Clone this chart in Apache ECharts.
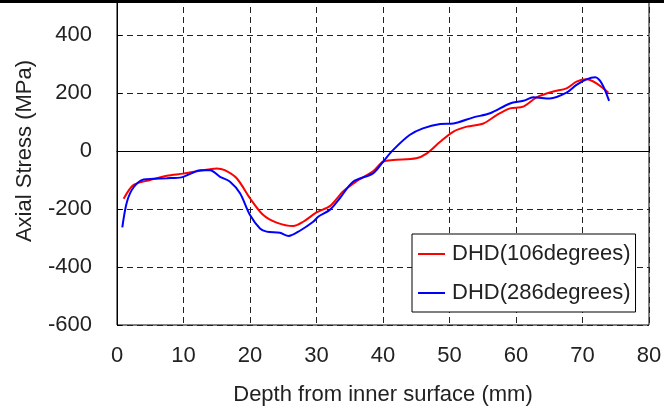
<!DOCTYPE html>
<html>
<head>
<meta charset="utf-8">
<script src="https://cdn.jsdelivr.net/npm/echarts@6/dist/echarts.min.js"></script>
<style>
  html, body { margin: 0; padding: 0; background: #fff; }
  #wrap { position: relative; width: 664px; height: 408px; }
  #chart { width: 664px; height: 408px; }
  /* thick rule along the top edge of the cut-out figure */
  #rule { position: absolute; left: 0; top: 0; width: 664px; height: 3px; background: #000; z-index: 10; }
</style>
</head>
<body>
<div id="wrap">
  <div id="chart"></div>
  <div id="rule"></div>
</div>
<script>
// values
var depthRed = [1, 2.5, 5, 7.5, 10, 12.5, 15, 16.2, 18, 20, 22, 24, 26.5, 28, 30, 32, 34, 36, 38.5, 40, 41.5, 45, 46.6, 48.6, 50.6, 52.6, 55.1, 57.1, 59.1, 61.1, 63.1, 65.6, 67.6, 69.1, 70.6, 72.1, 73.9]
var stressRed = [-165, -117, -100, -85, -78, -68, -60, -66, -94, -163, -221, -247, -259, -244, -212, -190, -140, -105, -70, -37, -31, -25, -8, 32, 67, 84, 95, 124, 147, 153, 185, 205, 216, 239, 247, 233, 201]

var depthBlue = [0.8, 1.5, 2.5, 4, 5.5, 7.5, 9.7, 11, 12.5, 14, 15.5, 17, 18.5, 20, 21.5, 22.5, 24.5, 25.8, 27.5, 29.5, 30.3, 32, 33.5, 35.5, 38.5, 40, 41.5, 44, 46, 48.6, 50.6, 53.6, 56.1, 59.1, 61.1, 62.6, 65.1, 67.6, 69.1, 70.6, 71.9, 72.9, 74]
var stressBlue = [-263, -175, -125, -98, -96, -94, -91, -79, -66, -66, -89, -106, -146, -221, -267, -278, -282, -293, -275, -244, -226, -203, -163, -106, -77, -37, 3, 55, 78, 93, 95, 116, 130, 164, 173, 185, 181, 201, 228, 247, 254, 233, 173]

var seriesNames = ['DHD(106degrees)', 'DHD(286degrees)']

function pairs(xs, ys) {
    return xs.map(function (x, i) { return [x, ys[i]] })
}

var font = 'Liberation Sans, Arial, sans-serif'
var textColor = '#222'
var dashed = {color: '#222', type: [6, 4], width: 1}

var chart = echarts.init(document.getElementById('chart'))
var option = {
    animation: false,
    backgroundColor: '#fff',
    textStyle: {fontFamily: font},
    // plot top sits above the window, the picture is cut at about 520 MPa
    grid: {
        left: 117, right: 15, top: -23, bottom: 83,
        outerBoundsMode: 'none',
        show: true, borderColor: '#000', borderWidth: 1
    },
    xAxis: {
        type: 'value', min: 0, max: 80, interval: 10,
        name: 'Depth from inner surface (mm)',
        nameLocation: 'middle', nameGap: 59,
        nameTextStyle: {fontSize: 22, color: textColor, fontFamily: font},
        axisLine: {lineStyle: {color: '#000', width: 1}},
        axisTick: {inside: true, length: 5, lineStyle: {color: '#000'}},
        axisLabel: {fontSize: 22, color: textColor, margin: 20, fontFamily: font},
        splitLine: {show: true, lineStyle: dashed}
    },
    yAxis: {
        type: 'value', min: -600, max: 600, interval: 200,
        name: 'Axial Stress (MPa)',
        nameLocation: 'middle', nameGap: 81,
        nameTextStyle: {fontSize: 22, color: textColor, fontFamily: font},
        axisLine: {show: true, lineStyle: {color: '#000', width: 1}},
        axisTick: {show: true, inside: true, length: 5, lineStyle: {color: '#000'}},
        axisLabel: {fontSize: 22, color: textColor, margin: 25, fontFamily: font},
        splitLine: {show: true, lineStyle: dashed}
    },
    legend: {
        orient: 'vertical',
        left: 412, top: 234,
        padding: [9, 5, 8, 6],
        backgroundColor: '#fff',
        borderColor: '#000', borderWidth: 1,
        itemWidth: 27, itemHeight: 2, itemGap: 17,
        icon: 'rect',
        textStyle: {fontSize: 22, color: textColor, fontFamily: font, padding: [0, 0, 0, 2]},
        data: seriesNames
    },
    series: [{
        name: seriesNames[0],
        type: 'line',
        data: pairs(depthRed, stressRed),
        smooth: 0.3,
        showSymbol: false,
        itemStyle: {color: '#ff0000'},
        lineStyle: {color: '#ff0000', width: 2},
        markLine: {
            silent: true, symbol: 'none', label: {show: false},
            lineStyle: {color: '#000', type: 'solid', width: 1},
            data: [{yAxis: 0}]
        },
        z: 3
    }, {
        name: seriesNames[1],
        type: 'line',
        data: pairs(depthBlue, stressBlue),
        smooth: 0.3,
        showSymbol: false,
        itemStyle: {color: '#0000ff'},
        lineStyle: {color: '#0000ff', width: 2},
        z: 4
    }]
}

chart.setOption(option)
</script>
</body>
</html>
